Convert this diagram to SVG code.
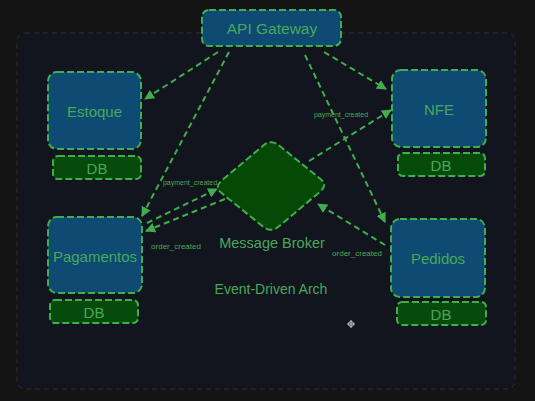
<svg xmlns="http://www.w3.org/2000/svg" width="535" height="401" viewBox="0 0 535 401">
<defs>
<marker id="ah" viewBox="0 0 10 10" refX="9" refY="5" markerWidth="5" markerHeight="5" orient="auto" markerUnits="strokeWidth">
<path d="M0,0 L10,5 L0,10 Z" fill="#3fae4c"/>
</marker>
<style>
.svc{fill:#0e4a72;stroke:#3fae4c;stroke-width:2;stroke-dasharray:7 3}
.db{fill:#064b0c;stroke:#3fae4c;stroke-width:2;stroke-dasharray:7 3}
.t{font-family:"Liberation Sans",Arial,sans-serif;fill:#48a85a;text-anchor:middle;dominant-baseline:central}
.lbl{font-family:"Liberation Sans",Arial,sans-serif;fill:#48a85a;text-anchor:middle;dominant-baseline:central}
.c{fill:none;stroke:#3fae4c;stroke-width:2;stroke-dasharray:6 4;marker-end:url(#ah)}
</style>
</defs>
<rect x="0" y="0" width="535" height="401" fill="#141414"/>
<rect id="container" x="17" y="33" width="498" height="356" rx="8" fill="#12151e" stroke="#3a2a2c" stroke-width="1" stroke-dasharray="5 4"/>
<g id="connectors">
<line class="c" x1="218" y1="52" x2="145" y2="99"/>
<line class="c" x1="229" y1="52" x2="142" y2="216"/>
<line class="c" x1="324" y1="52" x2="386" y2="89"/>
<line class="c" x1="305" y1="55" x2="385" y2="222"/>
<line class="c" x1="309" y1="161" x2="391" y2="110"/>
<line class="c" x1="147" y1="223" x2="217" y2="189"/>
<line class="c" x1="225" y1="199" x2="146" y2="231"/>
<line class="c" x1="385" y1="245" x2="318" y2="204"/>
<text class="lbl" x="341" y="114" font-size="7">payment_created</text>
<text class="lbl" x="190" y="182" font-size="7">payment_created</text>
<text class="lbl" x="176" y="246" font-size="8">order_created</text>
<text class="lbl" x="357" y="253" font-size="8">order_created</text>
</g>
<g id="api-gateway">
<rect class="svc" x="202" y="10" width="139" height="36" rx="7"/>
<text class="t" x="272" y="28.5" font-size="15.5">API Gateway</text>
</g>
<g id="estoque">
<rect class="svc" x="48" y="72" width="93" height="77" rx="9"/>
<text class="t" x="94.5" y="111" font-size="15">Estoque</text>
</g>
<g id="estoque-db">
<rect class="db" x="53" y="156" width="88" height="23" rx="5"/>
<text class="t" x="97" y="168" font-size="15">DB</text>
</g>
<g id="nfe">
<rect class="svc" x="392" y="70" width="94" height="77" rx="9"/>
<text class="t" x="439" y="109" font-size="15">NFE</text>
</g>
<g id="nfe-db">
<rect class="db" x="398" y="153" width="87" height="23" rx="5"/>
<text class="t" x="441" y="165" font-size="15">DB</text>
</g>
<g id="pagamentos">
<rect class="svc" x="48" y="217" width="94" height="76" rx="9"/>
<text class="t" x="95" y="256" font-size="15">Pagamentos</text>
</g>
<g id="pagamentos-db">
<rect class="db" x="50" y="300" width="88" height="23" rx="5"/>
<text class="t" x="94" y="312" font-size="15">DB</text>
</g>
<g id="pedidos">
<rect class="svc" x="391" y="219" width="94" height="78" rx="9"/>
<text class="t" x="438" y="258" font-size="15">Pedidos</text>
</g>
<g id="pedidos-db">
<rect class="db" x="397" y="302" width="89" height="23" rx="5"/>
<text class="t" x="441" y="314" font-size="15">DB</text>
</g>
<g id="message-broker">
<path d="M278.8,145.3 L320.2,178.7 Q328,185 320.35,191.44 L278.65,226.56 Q271,233 263.2,226.7 L221.8,193.3 Q214,187 221.65,180.56 L263.35,145.44 Q271,139 278.8,145.3 Z" fill="#064806" stroke="#3fae4c" stroke-width="2" stroke-dasharray="7 3"/>
<text class="t" x="272" y="243" font-size="14.5">Message Broker</text>
</g>
<text class="t" x="271" y="289" font-size="14">Event-Driven Arch</text>
<g id="cursor" fill="none" stroke="#c8c8c8" stroke-width="1">
<circle cx="351" cy="324" r="2.5"/>
<line x1="351" y1="320" x2="351" y2="328"/>
<line x1="347" y1="324" x2="355" y2="324"/>
</g>
</svg>
